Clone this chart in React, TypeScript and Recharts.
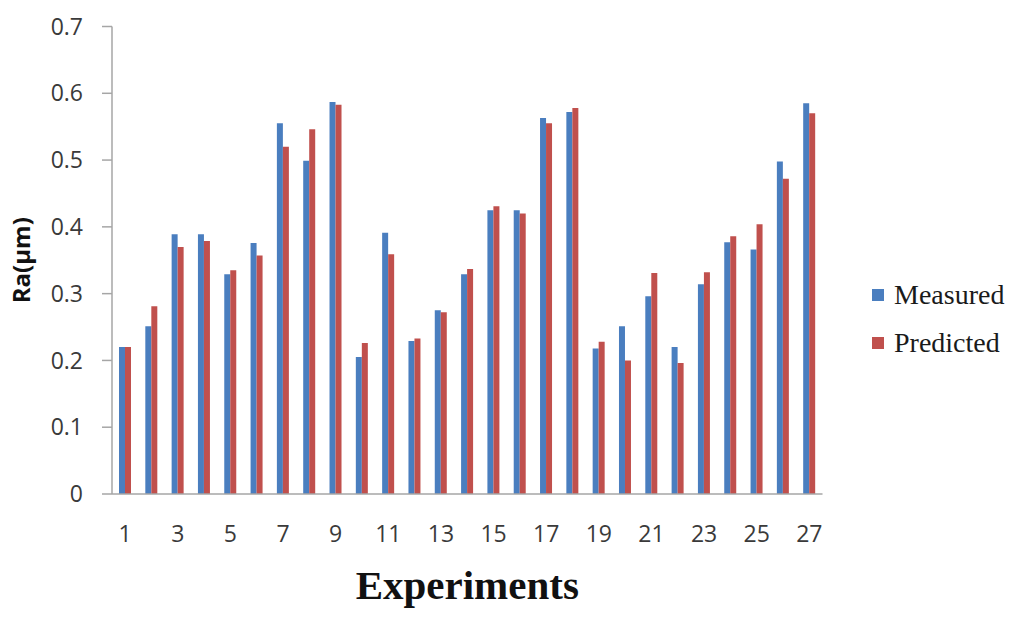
import React from 'react';
import { BarChart, Bar, XAxis, YAxis, Legend, Label } from 'recharts';

const experiments = [
  1, 2, 3, 4, 5, 6, 7, 8, 9, 10, 11, 12, 13, 14, 15, 16, 17, 18, 19, 20, 21, 22, 23, 24, 25, 26, 27,
];
const measured = [
  0.22, 0.251, 0.389, 0.389, 0.329, 0.376, 0.555, 0.499, 0.587, 0.205, 0.391, 0.229, 0.275, 0.329,
  0.425, 0.425, 0.563, 0.572, 0.218, 0.251, 0.296, 0.22, 0.314, 0.377, 0.366, 0.498, 0.585,
];
const predicted = [
  0.22, 0.281, 0.37, 0.379, 0.335, 0.357, 0.52, 0.546, 0.583, 0.226, 0.359, 0.233, 0.272, 0.337,
  0.431, 0.42, 0.555, 0.578, 0.228, 0.2, 0.331, 0.196, 0.332, 0.386, 0.404, 0.472, 0.57,
];
const yTicks = [0, 0.1, 0.2, 0.3, 0.4, 0.5, 0.6, 0.7];
const seriesNames = ['Measured', 'Predicted'];

const BLUE = '#4a7ebf';
const RED = '#c0504d';
const AXIS = '#a6a6a6';
const TICK_FONT = { fontFamily: '"Open Sans", sans-serif', fontSize: 23, fill: '#3a3a3a' };

const data = experiments.map((e, i) => ({
  name: String(e),
  Measured: measured[i],
  Predicted: predicted[i],
}));

const LegendBox = () => (
  <div style={{ fontFamily: '"Liberation Serif", "Times New Roman", serif', fontSize: 28, color: '#1a1a1a' }}>
    {seriesNames.map((n, i) => (
      <div key={n} style={{ display: 'flex', alignItems: 'center', height: 48 }}>
        <span
          style={{
            display: 'inline-block',
            width: 12,
            height: 12,
            background: i === 0 ? BLUE : RED,
            marginRight: 10,
          }}
        />
        <span>{n}</span>
      </div>
    ))}
  </div>
);

const App: React.FC = () => {
  return (
    <div style={{ position: 'absolute', left: 0, top: 0, background: '#fff' }}>
      <BarChart
        width={1024}
        height={622}
        data={data}
        barGap={0}
        barSize={6}
        margin={{ top: 26.5, right: 201.5, bottom: 0, left: 0 }}
      >
        <XAxis
          dataKey="name"
          interval={1}
          tickLine={false}
          tickSize={0}
          tickMargin={32}
          axisLine={{ stroke: AXIS, strokeWidth: 1.5 }}
          tick={TICK_FONT}
          height={128}
        >
          <Label
            value="Experiments"
            position="insideBottom"
            offset={23}
            style={{
              fontFamily: '"Liberation Serif", "Times New Roman", serif',
              fontSize: 41,
              fontWeight: 'bold',
              fill: '#111',
            }}
          />
        </XAxis>
        <YAxis
          width={112}
          domain={[0, 0.7]}
          ticks={yTicks}
          tickSize={10}
          tickMargin={19}
          tickLine={{ stroke: AXIS, strokeWidth: 1.5 }}
          axisLine={{ stroke: AXIS, strokeWidth: 1.5 }}
          tick={TICK_FONT}
        >
          <Label
            value="Ra(µm)"
            angle={-90}
            position="insideLeft"
            offset={21}
            style={{
              fontFamily: '"Open Sans", sans-serif',
              fontSize: 24,
              fontWeight: 'bold',
              fill: '#111',
              textAnchor: 'middle',
            }}
          />
        </YAxis>
        <Legend
          layout="vertical"
          align="center"
          verticalAlign="middle"
          content={<LegendBox />}
          wrapperStyle={{ left: 872, top: 271, width: 150 }}
        />
        <Bar dataKey="Measured" fill={BLUE} isAnimationActive={false} />
        <Bar dataKey="Predicted" fill={RED} isAnimationActive={false} />
      </BarChart>
    </div>
  );
};

export default App;
